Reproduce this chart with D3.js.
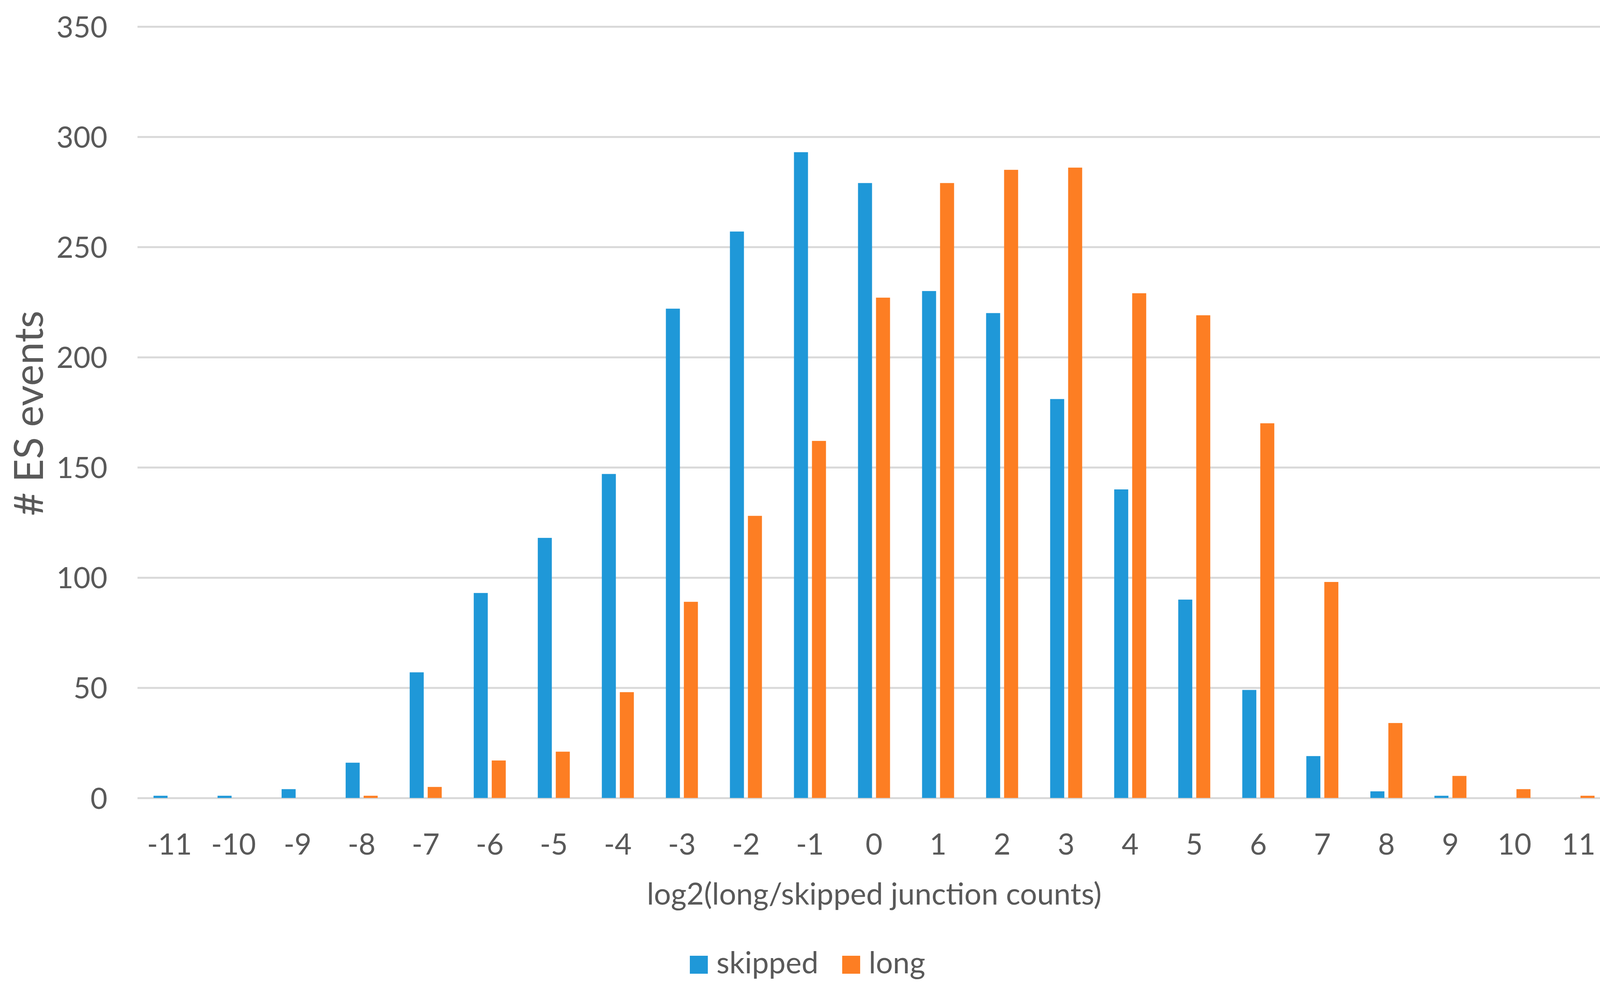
<!DOCTYPE html>
<html>
<head>
<meta charset="utf-8">
<script src="https://cdn.jsdelivr.net/npm/d3@7"></script>
<style>
  html, body { margin: 0; padding: 0; background: #ffffff; }
  svg { display: block; }
  text { font-family: Lato, "Open Sans", sans-serif; fill: #595959; }
</style>
</head>
<body>
<svg id="chart" width="4180" height="2527"></svg>
<script>
// ---- data ----
const categories = ["-11","-10","-9","-8","-7","-6","-5","-4","-3","-2","-1","0","1","2","3","4","5","6","7","8","9","10","11"];
const seriesNames = ["skipped", "long"];
const skipped = [1, 1, 4, 16, 57, 93, 118, 147, 222, 257, 293, 279, 230, 220, 181, 140, 90, 49, 19, 3, 1, 0, 0];
const long    = [0, 0, 0, 1, 5, 17, 21, 48, 89, 128, 162, 227, 279, 285, 286, 229, 219, 170, 98, 34, 10, 4, 1];
const yTicks = [0, 50, 100, 150, 200, 250, 300, 350];
const colors = ["#1f98d8", "#fd7e23"];
const xTitle = "log2(long/skipped junction counts)";
const yTitle = "# ES events";

// ---- layout ----
const plotLeft = 352, plotRight = 4123, plotTop = 68, plotBottom = 2043;

const svg = d3.select("#chart");

const x0 = d3.scaleBand().domain(categories).range([plotLeft, plotRight])
  .paddingInner(0.5).paddingOuter(0.25);
const x1 = d3.scaleBand().domain(seriesNames).range([0, x0.bandwidth()])
  .paddingInner(0.22).paddingOuter(0);
const y = d3.scaleLinear().domain([0, 350]).range([plotBottom, plotTop]);
const color = d3.scaleOrdinal().domain(seriesNames).range(colors);

// gridlines + y labels
const yAxis = d3.axisLeft(y).tickValues(yTicks).tickSize(-(plotRight - plotLeft)).tickFormat(d3.format("d")).tickPadding(77);
const gy = svg.append("g").attr("transform", `translate(${plotLeft},0)`).call(yAxis);
gy.select(".domain").remove();
gy.selectAll(".tick line").attr("stroke", "#d9d9d9").attr("stroke-width", 5);
gy.selectAll(".tick text")
  .attr("font-size", 75)
  .attr("font-family", "Lato, 'Open Sans', sans-serif")
  .attr("fill", "#595959")
  .attr("dy", "0.36em");

// bars
const rows = categories.map((c, i) => ({ cat: c, values: [skipped[i], long[i]] }));
const groups = svg.append("g").selectAll("g").data(rows).join("g")
  .attr("transform", d => `translate(${x0(d.cat)},0)`);
groups.selectAll("rect")
  .data(d => d.values.map((v, j) => ({ key: seriesNames[j], value: v })))
  .join("rect")
  .attr("x", d => x1(d.key))
  .attr("width", x1.bandwidth())
  .attr("y", d => y(d.value))
  .attr("height", d => plotBottom - y(d.value))
  .attr("fill", d => color(d.key));

// x axis labels
const xAxis = d3.axisBottom(x0).tickSize(0).tickPadding(0);
const gx = svg.append("g").attr("transform", `translate(0,${plotBottom})`).call(xAxis);
gx.select(".domain").remove();
gx.selectAll(".tick text")
  .attr("font-size", 75)
  .attr("font-family", "Lato, 'Open Sans', sans-serif")
  .attr("fill", "#595959")
  .attr("y", 145)
  .attr("dy", 0);

// axis titles
svg.append("text")
  .attr("x", 2238)
  .attr("y", 2316)
  .attr("text-anchor", "middle")
  .attr("font-size", 77)
  .text(xTitle);

svg.append("text")
  .attr("transform", `translate(110,1058) rotate(-90)`)
  .attr("text-anchor", "middle")
  .attr("font-size", 103)
  .text(yTitle);

// legend
const legend = svg.append("g");
const legendItems = [
  { key: "skipped", x: 1766 },
  { key: "long", x: 2156 }
];
legendItems.forEach(it => {
  legend.append("rect")
    .attr("x", it.x).attr("y", 2447)
    .attr("width", 46).attr("height", 46)
    .attr("fill", color(it.key));
  legend.append("text")
    .attr("x", it.x + 68).attr("y", 2492)
    .attr("font-size", 77)
    .text(it.key);
});
</script>
</body>
</html>
